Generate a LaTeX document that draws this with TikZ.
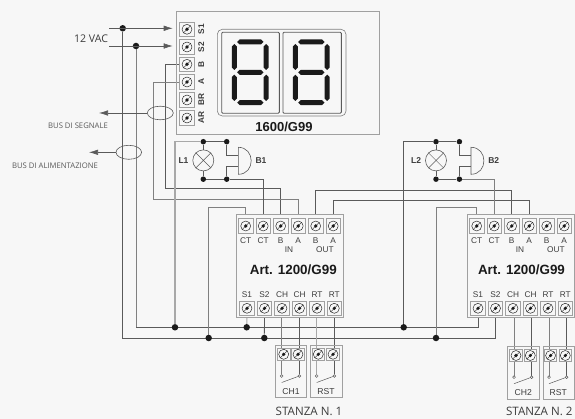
\documentclass[tikz,border=0pt]{standalone}
\usepackage{fontspec}
\usetikzlibrary{arrows.meta,calc,shapes.geometric}
\setmainfont{Liberation Sans}
\newfontfamily\busfont{Open Sans}
\definecolor{bgc}{HTML}{F7F7F7}
\definecolor{wd}{HTML}{5A5A5A}
\definecolor{wm}{HTML}{808080}
\definecolor{wl}{HTML}{A8A8A8}
\definecolor{boxc}{HTML}{A0A0A0}
\definecolor{txt}{HTML}{3C3C3C}
\definecolor{ink}{HTML}{1A1A1A}
\pgfdeclarelayer{backfill}
\pgfdeclarelayer{wires}
\pgfsetlayers{backfill,wires,main}
\tikzset{
  wire/.style={draw=wd,line width=0.8pt},
  midwire/.style={draw=wm,line width=0.8pt},
  lightwire/.style={draw=wl,line width=1.1pt},
  panel/.style={draw=boxc,line width=0.8pt},
  termbox/.style={draw=boxc,line width=0.9pt,fill=bgc,minimum size=14.5pt,inner sep=0pt,shape=rectangle},
  smallterm/.style={termbox,minimum size=12.5pt},
  junction/.style={circle,fill=ink,draw=none,minimum size=6.5pt,inner sep=0pt},
  smalljunction/.style={circle,fill=ink,draw=none,minimum size=5.5pt,inner sep=0pt},
  contact/.style={circle,draw=wd,fill=bgc,line width=0.5pt,minimum size=2.8pt,inner sep=0pt},
  lbl/.style={inner sep=0pt,text=txt,font=\fontsize{8.3}{9}\selectfont},
  blbl/.style={inner sep=0pt,text=txt,font=\fontsize{8.5}{9}\selectfont\bfseries},
  title/.style={inner sep=0pt,text=ink,font=\fontsize{13.4}{14}\selectfont\bfseries},
  bus/.style={inner sep=0pt,text=txt!85,font=\busfont\fontsize{7.7}{9}\selectfont},
  room/.style={inner sep=0pt,text=txt,font=\busfont\fontsize{11.6}{13}\selectfont},
  seg/.style={fill=ink,draw=none},
  tip/.style={-{Latex[length=9pt,width=5.5pt]}},
  loop/.style={ellipse,draw=wd,line width=0.6pt,inner sep=0pt}
}
% terminal: name, x, y, style
\newcommand{\terminal}[4]{%
  \node[#4] (#1) at (#2,#3) {};
  \draw[draw=ink,line width=0.45pt] (#1.center) circle (5pt);
  \draw[draw=ink,line width=0.35pt] ($(#1.center)+(-3.5pt,-3.5pt)$) -- ($(#1.center)+(3.5pt,3.5pt)$);
  \fill[ink] (#1.center) circle (1.8pt);
}
% horizontal / vertical display segments
\newcommand{\segH}[3]{\fill[seg] (#1,#3) -- (#1+2.5,#3-2.5) -- (#2-2.5,#3-2.5) -- (#2,#3) -- (#2-2.5,#3+2.5) -- (#1+2.5,#3+2.5) -- cycle;}
\newcommand{\segV}[3]{\fill[seg] (#1,#2) -- (#1+2.5,#2+2.5) -- (#1+2.5,#3-2.5) -- (#1,#3) -- (#1-2.5,#3-2.5) -- (#1-2.5,#2+2.5) -- cycle;}
% module: prefix, xshift, title x
\newcommand{\module}[3]{%
  \begin{scope}[xshift=#2pt]
    \node[panel,fill=bgc,minimum width=106.6pt,minimum height=103.6pt,inner sep=0pt] (#1box) at (290,266) {};
    \foreach \i/\l/\xx in {1/CT/245.7,2/CT/263.2,3/B/280.7,4/A/298.2,5/B/315.7,6/A/333.2}{
      \terminal{#1t\i}{\xx}{226}{termbox}
      \node[lbl] (#1tl\i) at (\xx,241) {\l};
    }
    \foreach \i/\l/\xx in {1/S1/247,2/S2/264.5,3/CH/282,4/CH/299.5,5/RT/317,6/RT/334.3}{
      \terminal{#1b\i}{\xx}{308.3}{termbox}
      \node[lbl] (#1bl\i) at (\xx,295) {\l};
    }
    \node[lbl] (#1in) at (289,250) {IN};
    \node[lbl] (#1out) at (325,250) {OUT};
  \end{scope}
  \node[title] (#1title) at (#3,270) {Art. 1200/G99};
}
% relay pair: prefix, label, xshift, yshift, second box width
\newcommand{\relay}[5]{%
  \begin{scope}[xshift=#3pt,yshift=#4pt]
    \node[panel,minimum width=31.4pt,minimum height=52.4pt,inner sep=0pt] (#1boxa) at (291,371.5) {};
    \node[panel,minimum width=#5pt,minimum height=52.4pt,inner sep=0pt,anchor=west] (#1boxb) at (310.3,371.5) {};
    \terminal{#1ta}{283.7}{354.3}{smallterm}
    \terminal{#1tb}{298}{354.3}{smallterm}
    \terminal{#1tc}{318.3}{354.3}{smallterm}
    \terminal{#1td}{333}{354.3}{smallterm}
    \node[contact] (#1ca) at (281.7,376) {};
    \node[contact] (#1cb) at (299.3,376) {};
    \node[contact] (#1cc) at (316.7,376) {};
    \node[contact] (#1cd) at (334.3,376) {};
    \coordinate (#1sa) at (281.7,382.5);
    \coordinate (#1sc) at (316.7,382.5);
    \draw[draw=wd,line width=0.5pt] (#1sa) -- (#1cb);
    \draw[draw=wd,line width=0.5pt] (#1sc) -- (#1cd);
    \node[lbl,font=\fontsize{8.6}{9}\selectfont] (#1l1) at (291,391.7) {#2};
    \node[lbl,font=\fontsize{8.6}{9}\selectfont] (#1l2) at (326,391.7) {RST};
  \end{scope}
}
% lamp and buzzer: prefix, lamp label, buzzer label, xshift
\newcommand{\alarm}[4]{%
  \begin{scope}[xshift=#4pt]
    \node[smalljunction] (#1lt) at (203.3,141.7) {};
    \node[smalljunction] (#1bt) at (226.7,141.7) {};
    \node[smalljunction] (#1lb) at (203.3,179.2) {};
    \node[smalljunction] (#1bb) at (226.7,179.2) {};
    \node[circle,draw=wd,line width=0.6pt,minimum size=21pt,inner sep=0pt] (#1lamp) at (203.3,160.4) {};
    \draw[draw=wd,line width=0.5pt] (#1lamp.45) -- (#1lamp.225) (#1lamp.135) -- (#1lamp.315);
    \coordinate (#1ba) at (238.3,147.3);
    \coordinate (#1bc) at (238.3,174.3);
    \coordinate (#1bi) at (238.3,155.3);
    \coordinate (#1bj) at (238.3,166.7);
    \draw[draw=wd,line width=0.6pt] (#1ba) .. controls (255.5,147.3) and (255.5,174.3) .. (#1bc) -- cycle;
    \draw[wire] (#1lt) -- (#1lamp) (#1lb) -- (#1lamp) (#1lt) -- (#1bt) (#1lb) -- (#1bb);
    \draw[wire] (#1bt) |- (#1bi);
    \draw[wire] (#1bb) |- (#1bj);
    \node[blbl] (#1ll) at (183.5,161) {#2};
    \node[blbl] (#1bl) at (261,161) {#3};
  \end{scope}
}
\begin{document}
\begin{tikzpicture}[x=1pt,y=-1pt]
\useasboundingbox (0,0) rectangle (575,419);
\begin{pgfonlayer}{backfill}
\fill[bgc] (0,0) rectangle (575,419);
\end{pgfonlayer}

% named points of the buses
\node[junction] (p1) at (122.7,28.3) {};
\node[junction] (p2) at (136,46) {};
\coordinate (s1) at (109,28.3);
\coordinate (s2) at (109,46);
\coordinate (e1) at (172.7,28.3);
\coordinate (e2) at (172.7,46);
\coordinate (bl1) at (122.7,338);
\coordinate (bl2) at (136,327.3);
\coordinate (c1) at (165.7,188.5);
\coordinate (c2) at (153.3,199.5);
\coordinate (c3) at (208.7,207.5);
\coordinate (c4) at (436,207.5);
\coordinate (o1) at (315.7,190);
\coordinate (o2) at (333.2,200.5);
\node[junction] (j1) at (175,327.3) {};
\node[junction] (j2) at (208.7,338) {};
\node[junction] (j3) at (246.7,327.3) {};
\node[junction] (j4) at (264.3,338) {};
\node[junction] (j5) at (403.7,327.3) {};
\node[junction] (j6) at (436,338) {};

% display panel
\node[panel,minimum width=202.6pt,minimum height=123pt,inner sep=0pt] (disp) at (277.7,73) {};
\foreach \n/\l/\yy in {S1/S1/29.3,S2/S2/47,B/B/64.3,A/A/82,BR/BR/100,AR/AR/118}{
  \terminal{d\n}{187}{\yy}{termbox}
  \node[blbl,rotate=90,font=\fontsize{8.3}{9}\selectfont\bfseries] (dl\n) at (201.3,\yy) {\l};
}
\draw[draw=wm,line width=0.6pt,rounded corners=5pt] (217.3,29.3) rectangle (346,116);
\draw[draw=wd,line width=0.9pt,rounded corners=1pt] (221.7,32.3) rectangle (279.3,113.3);
\draw[draw=wd,line width=0.9pt,rounded corners=1pt] (283,32.3) rectangle (341.3,113.3);
\foreach \d in {0,61}{
  \begin{scope}[xshift=\d pt]
    \segH{237.2}{263.5}{42}
    \segH{237.2}{263.5}{72.3}
    \segH{237.2}{263.5}{102.7}
    \segV{234.3}{44}{70}
    \segV{266.2}{44}{70}
    \segV{234.3}{74.7}{101}
    \segV{266.2}{74.7}{101}
  \end{scope}
}
\node[title,font=\fontsize{13}{14}\selectfont\bfseries] (dtitle) at (284,127) {1600/G99};

% modules and room boxes
\module{ma}{0}{293.3}
\module{mb}{231}{521.5}
\relay{ra}{CH1}{0}{0}{31.4}
\relay{rb}{CH2}{232.3}{-1.2}{31.2}
\alarm{la}{L1}{B1}{0}
\alarm{lb}{L2}{B2}{232.7}

% 12 VAC feed
\draw[draw=wd,line width=0.6pt,tip] (s1) -- (e1);
\draw[draw=wd,line width=0.6pt,tip] (s2) -- (e2);
\node[inner sep=0pt,text=txt,font=\busfont\fontsize{10.6}{12}\selectfont] (vac) at (91,38.5) {12 VAC};

% bus loops and their labels
\node[loop,minimum width=26pt,minimum height=13.6pt] (lp1) at (160.3,113) {};
\node[loop,minimum width=25.6pt,minimum height=14pt] (lp2) at (128.8,152.3) {};
\coordinate (t1) at (99,113);
\coordinate (t2) at (89,152.3);
\draw[draw=wd,line width=0.6pt,-{Latex[length=9pt,width=5.5pt]}] (lp1.west) -- (t1);
\draw[draw=wd,line width=0.6pt,-{Latex[length=9pt,width=5.5pt]}] (lp2.west) -- (t2);
\node[bus] (bs) at (78,125.7) {BUS DI SEGNALE};
\node[bus] (ba) at (55,165.3) {BUS DI ALIMENTAZIONE};
\node[room] (r1) at (309,411.5) {STANZA N. 1};
\node[room] (r2) at (539.3,411.5) {STANZA N. 2};

\begin{pgfonlayer}{wires}
  % power buses
  \draw[wire] (p1) -- (bl1) -- (mbb2.south |- bl1) -- (mbb2.south);
  \draw[midwire] (p2) -- (bl2);
  \draw[wire] (bl2) -- (mbb1.south |- bl2) -- (mbb1.south);
  \draw[lightwire] (j3) -- (mab1.south);
  \draw[wire] (j4) -- (mab2.south);
  % display bus
  \draw[wire] (dB.west) -| (c1) -| (mat3.north);
  \draw[midwire] (dA.west) -| (c2) -| (mat4.north);
  % module links
  \draw[wire] (mat5.north) -- (o1) -| (mbt3.north);
  \draw[wire] (mat6.north) -- (o2) -| (mbt4.north);
  % alarm feeds
  \draw[lightwire] (lalt) -| (j1);
  \draw[wire] (labb) -| (mat2.north);
  \draw[midwire] (mat1.north) |- (c3) -- (j2);
  \draw[wire] (lblt) -| (j5);
  \draw[midwire] (lbbb) -| (mbt2.north);
  \draw[midwire] (mbt1.north) |- (c4) -- (j6);
  % room contacts
  \draw[midwire] (raca |- mab3.south) -- (raca);
  \draw[wire] (racb |- mab4.south) -- (racb);
  \draw[lightwire] (racc |- mab5.south) -- (racc);
  \draw[wire] (racd |- mab6.south) -- (racd);
  \draw[midwire] (rbca |- mbb3.south) -- (rbca);
  \draw[wire] (rbcb |- mbb4.south) -- (rbcb);
  \draw[midwire] (rbcc |- mbb5.south) -- (rbcc);
  \draw[wire] (rbcd |- mbb6.south) -- (rbcd);
\end{pgfonlayer}
\end{tikzpicture}
\end{document}
